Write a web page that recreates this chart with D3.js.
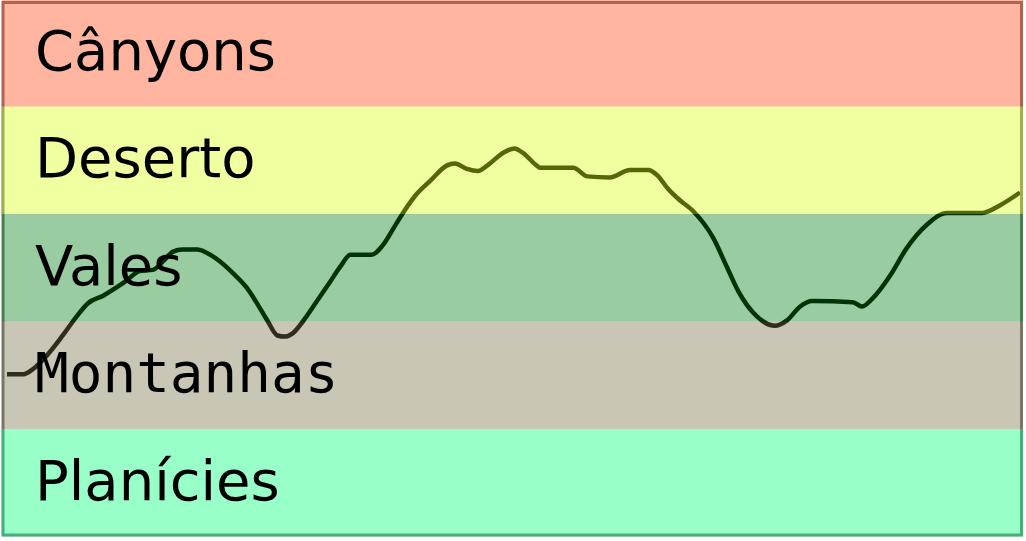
<!DOCTYPE html>
<html>
<head>
<meta charset="utf-8">
<script src="https://cdn.jsdelivr.net/npm/d3@7"></script>
<style>
  html, body { margin: 0; padding: 0; background: #fff; }
  svg { display: block; }
</style>
</head>
<body>
<div id="chart"></div>
<script>
// Terrain bands, bottom to top, and their elevation limits
const bands = ['Planícies', 'Montanhas', 'Vales', 'Deserto', 'Cânyons'];
const bandLimits = [0, 100, 200, 300, 400, 500];

// Elevation profile
const distance = [0, 1.6, 2.6, 3.9, 5.5, 6.9, 8.0, 9.5, 10.7, 11.8, 13.1, 14.4, 15.4, 16.4, 17.3, 18.8,
  19.7, 21.0, 22.3, 23.7, 24.8, 25.7, 26.7, 27.4, 28.2, 29.2, 30.6, 31.9, 32.9, 33.9, 36.0, 37.1,
  38.3, 39.3, 40.3, 41.8, 43.4, 44.2, 45.4, 46.5, 47.4, 49.0, 50.1, 50.9, 52.3, 52.6, 55.9, 57.3,
  59.5, 61.5, 63.3, 64.2, 65.2, 66.4, 67.7, 69.7, 71.1, 72.2, 74.0, 75.8, 77.0, 78.3, 79.5, 83.5,
  84.4, 85.5, 87.2, 88.8, 90.8, 92.8, 96.3, 98.0, 100];
const elevation = [151, 151, 156, 168, 187, 205, 217, 224, 231, 238, 247, 248, 256, 265, 267, 267,
  264, 256, 245, 231, 215, 201, 187, 186, 189, 200, 219, 237, 251, 262, 262, 271,
  289, 304, 317, 331, 345, 347, 342, 340, 345, 357, 361, 357, 345, 343, 343, 335,
  334, 341, 341, 336, 324, 313, 303, 278, 250, 228, 205, 196, 201, 214, 219, 218,
  214, 222, 243, 268, 290, 301, 301, 308, 320];

const width = 1026;
const height = 541;

const svg = d3.select('#chart')
  .append('svg')
  .attr('width', width)
  .attr('height', height);

const xScale = d3.scaleLinear().domain([0, 100]).range([7, 1020]);
const yScale = d3.scaleLinear().domain([0, 500]).range([536.5, -1]);
const color = d3.scaleOrdinal()
  .domain(bands)
  .range(['#00ff75', '#787048', '#008011', '#d9ff11', '#ff4512']);

const points = distance.map((d, i) => ({ d, v: elevation[i] }));

// Profile line sits under the tinted bands
const line = d3.line()
  .x((p) => xScale(p.d))
  .y((p) => yScale(p.v))
  .curve(d3.curveMonotoneX);

svg.append('path')
  .datum(points)
  .attr('d', line)
  .attr('fill', 'none')
  .attr('stroke', '#000')
  .attr('stroke-width', 4.5)
  .attr('stroke-linejoin', 'round');

// Frame
svg.append('rect')
  .attr('x', 3)
  .attr('y', 2.5)
  .attr('width', 1018.5)
  .attr('height', 532.5)
  .attr('fill', 'none')
  .attr('stroke', '#787878')
  .attr('stroke-width', 3);

// Bands
svg.append('g')
  .selectAll('rect')
  .data(bands)
  .join('rect')
  .attr('x', 2)
  .attr('width', 1021)
  .attr('y', (d, i) => yScale(bandLimits[i + 1]))
  .attr('height', (d, i) => yScale(bandLimits[i]) - yScale(bandLimits[i + 1]))
  .attr('fill', (d) => color(d))
  .attr('fill-opacity', 0.4);

// Band labels
svg.append('g')
  .selectAll('text')
  .data(bands)
  .join('text')
  .attr('x', 35)
  .attr('y', (d, i) => (yScale(bandLimits[i]) + yScale(bandLimits[i + 1])) / 2)
  .attr('dy', '0.3em')
  .attr('font-family', (d) => (d === 'Montanhas' ? 'DejaVu Sans Mono' : 'DejaVu Sans'))
  .attr('font-size', 56)
  .attr('fill', '#000')
  .text((d) => d);
</script>
</body>
</html>
